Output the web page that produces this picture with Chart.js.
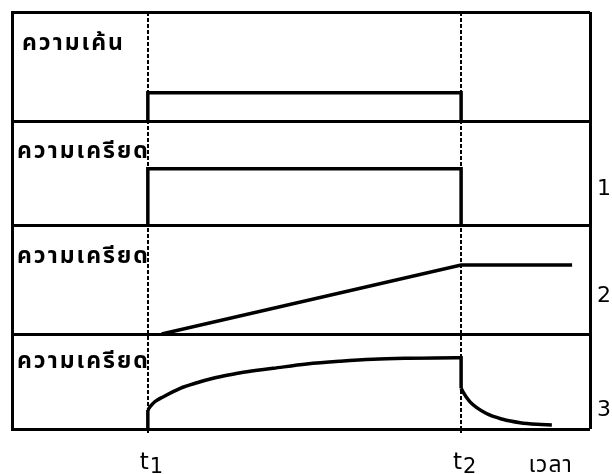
<!DOCTYPE html>
<html>
<head>
<meta charset="utf-8">
<script src="https://cdn.jsdelivr.net/npm/chart.js@4/dist/chart.umd.min.js"></script>
<style>
  html, body { margin: 0; padding: 0; background: #fff; }
  #box { width: 612px; height: 474px; }
</style>
</head>
<body>
<div id="box"><canvas id="creep-chart"></canvas></div>
<script>
'use strict';

// time runs 0..100, load is put on at T1 and taken off at T2
const T1 = 23.5;
const T2 = 77.7;
const loadTimes = [T1, T2];
const timeTitle = 'เวลา';

const panelTitles = ['ความเค้น', 'ความเครียด', 'ความเครียด', 'ความเครียด'];
const curveNumbers = ['1', '2', '3'];

// stress step
const stressTime = [T1, T1, T2, T2];
const stressValue = [0, 0.26, 0.26, 0];

// 1: elastic strain
const elasticTime = [T1, T1, T2, T2];
const elasticValue = [0, 0.54, 0.54, 0];

// 2: viscous strain
const viscousTime = [25.9, T2, 96.9];
const viscousValue = [0, 0.633, 0.633];

// 3: viscoelastic strain
const jumpOnTime = [T1, T1];
const jumpOnValue = [0, 0.2];
const creepTime = [T1, 23.9, 24.7, 26.2, 29.1, 32.0, 34.8, 37.7, 40.0, 45.2, 51.0, 56.8, 62.5, 68.3, 77.0, T2, T2];
const creepValue = [0.2, 0.235, 0.287, 0.34, 0.428, 0.487, 0.534, 0.572, 0.598, 0.639, 0.684, 0.713, 0.734, 0.744, 0.751, 0.751, 0.43];
const recoveryTime = [T2, 78.0, 79.2, 82.0, 84.9, 87.9, 90.8, 93.4];
const recoveryValue = [0.43, 0.393, 0.288, 0.165, 0.102, 0.066, 0.049, 0.042];

const panelIds = ['stress', 'elastic', 'viscous', 'viscoelastic'];
const panelHeights = [109, 104, 109, 95];

const pts = (xs, ys) => xs.map((x, i) => ({x, y: ys[i]}));

function line(yAxisID, xs, ys, smooth) {
    return {
        yAxisID,
        data: pts(xs, ys),
        borderColor: '#000',
        borderWidth: 3.5,
        pointRadius: 0,
        fill: false,
        cubicInterpolationMode: smooth ? 'monotone' : 'default',
        tension: 0,
        borderJoinStyle: 'miter',
    };
}

function panelAxis(i) {
    return {
        type: 'linear',
        position: 'left',
        stack: 'panels',
        stackWeight: panelHeights[i],
        weight: panelIds.length - i,
        min: 0,
        max: 1,
        afterBuildTicks: scale => {
            scale.ticks = [{value: scale.min}, {value: scale.max}];
        },
        ticks: {display: false},
        grid: {color: '#000', lineWidth: 3, drawTicks: false},
        border: {color: '#000', width: 3},
    };
}

const scales = {
    x: {
        type: 'linear',
        position: 'bottom',
        min: 0,
        max: 100,
        afterBuildTicks: scale => {
            scale.ticks = loadTimes.map(value => ({value}));
        },
        ticks: {display: false},
        grid: {
            color: '#000',
            lineWidth: 2,
            drawTicks: true,
            tickLength: 6,
            tickWidth: 2,
            tickColor: '#000',
            tickBorderDash: [4, 2],
        },
        border: {display: false, dash: [4, 2]},
    },
    // right edge of the frame
    frame: {
        type: 'linear',
        axis: 'x',
        position: 'top',
        min: 0,
        max: 100,
        afterBuildTicks: scale => {
            scale.ticks = [{value: scale.max}];
        },
        ticks: {display: false},
        grid: {color: '#000', lineWidth: 3, drawTicks: false},
        border: {display: false},
    },
};
panelIds.forEach((id, i) => { scales[id] = panelAxis(i); });

// panel names, curve numbers and time labels
const labels = {
    id: 'labels',
    afterDraw(chart) {
        const {ctx, chartArea} = chart;
        const s = chart.scales;
        ctx.save();
        ctx.fillStyle = '#000';
        ctx.textBaseline = 'middle';

        ctx.font = 'bold 23px "Noto Sans Thai", "Noto Sans", "DejaVu Sans", sans-serif';
        ctx.letterSpacing = '2px';
        ctx.textAlign = 'left';
        panelIds.forEach((id, i) => {
            const sc = s[id];
            ctx.fillText(panelTitles[i], chartArea.left + (i ? 5 : 10), sc.top + sc.height * 0.31);
        });

        ctx.letterSpacing = '0px';
        ctx.font = '22px "DejaVu Sans", sans-serif';
        ctx.textAlign = 'center';
        const numPos = [0.66, 0.65, 0.8];
        curveNumbers.forEach((n, i) => {
            const sc = s[panelIds[i + 1]];
            ctx.fillText(n, chartArea.right + 14, sc.top + sc.height * numPos[i]);
        });

        ctx.textBaseline = 'alphabetic';
        loadTimes.forEach((t, i) => {
            const x = s.x.getPixelForValue(t);
            ctx.font = '23px "DejaVu Sans", sans-serif';
            ctx.textAlign = 'right';
            ctx.fillText('t', x + 1, chartArea.bottom + 40);
            ctx.font = '21px "DejaVu Sans", sans-serif';
            ctx.textAlign = 'left';
            ctx.fillText(String(i + 1), x + 2, chartArea.bottom + 44);
        });

        ctx.font = '23px "Noto Sans Thai", "Noto Sans", "DejaVu Sans", sans-serif';
        ctx.letterSpacing = '1px';
        ctx.textAlign = 'center';
        ctx.fillText(timeTitle, s.x.getPixelForValue(93.2), chartArea.bottom + 43);
        ctx.restore();
    }
};

const creepChart = new Chart(document.querySelector('#creep-chart'), {
    type: 'line',
    data: {
        datasets: [
            line('stress', stressTime, stressValue),
            line('elastic', elasticTime, elasticValue),
            line('viscous', viscousTime, viscousValue),
            line('viscoelastic', jumpOnTime, jumpOnValue),
            line('viscoelastic', creepTime, creepValue, true),
            line('viscoelastic', recoveryTime, recoveryValue, true),
        ]
    },
    options: {
        responsive: true,
        maintainAspectRatio: false,
        animation: false,
        layout: {padding: {top: 12, left: 12, right: 22, bottom: 39}},
        plugins: {
            legend: {display: false},
            tooltip: {enabled: false},
        },
        scales,
    },
    plugins: [labels],
});
</script>
</body>
</html>
